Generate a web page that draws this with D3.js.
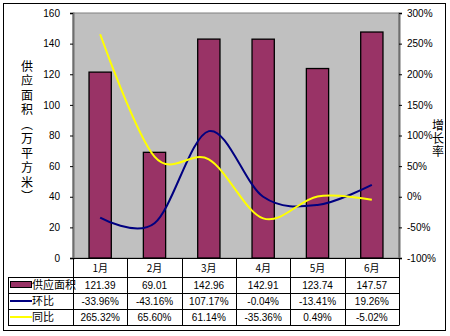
<!DOCTYPE html>
<html><head><meta charset="utf-8">
<script src="https://cdn.jsdelivr.net/npm/d3@7/dist/d3.min.js"></script>
<style>
body{margin:0;background:#fff;}
text{font-family:"Liberation Sans","Noto Sans CJK SC",sans-serif;font-size:10px;fill:#000;}
.cjk{font-family:"Noto Sans CJK SC",sans-serif;}
</style></head>
<body><svg id="c" width="450" height="336"></svg>
<script>
const categories = ["1月","2月","3月","4月","5月","6月"];
const supplyArea = [121.39, 69.01, 142.96, 142.91, 123.74, 147.57];
const momGrowth = [-33.96, -43.16, 107.17, -0.04, -13.41, 19.26];
const yoyGrowth = [265.32, 65.60, 61.14, -35.36, 0.49, -5.02];
const leftTicks = [0,20,40,60,80,100,120,140,160];
const rightTicks = [-100,-50,0,50,100,150,200,250,300];
const seriesNames = ["供应面积","环比","同比"];

const svg = d3.select("#c");
const L = 73, R = 399, T = 13, B = 258;
const x = d3.scaleBand().domain(categories).range([L,R]).padding(0);
const yL = d3.scaleLinear().domain([0,160]).range([B,T]);
const yR = d3.scaleLinear().domain([-100,300]).range([B,T]);

svg.append("rect").attr("x",3.5).attr("y",3.5).attr("width",442).attr("height",327).attr("fill","#fff").attr("stroke","#000");
svg.append("rect").attr("x",L).attr("y",T).attr("width",R-L).attr("height",B-T).attr("fill","#c0c0c0").attr("stroke","#808080");

const bw = x.bandwidth()*0.41;
svg.selectAll(".bar").data(supplyArea).join("rect")
  .attr("x",(d,i)=>x(categories[i])+x.bandwidth()/2-bw/2)
  .attr("y",d=>yL(d)).attr("width",bw).attr("height",d=>B-yL(d))
  .attr("fill","#993366").attr("stroke","#000").attr("stroke-width",1.3);

const cx = (i)=>x(categories[i])+x.bandwidth()/2;
const line = d3.line().x((d,i)=>cx(i)).y(d=>yR(d)).curve(d3.curveCatmullRom.alpha(0));
svg.append("path").attr("d",line(momGrowth)).attr("fill","none").attr("stroke","#000080").attr("stroke-width",2);
svg.append("path").attr("d",line(yoyGrowth)).attr("fill","none").attr("stroke","#ffff00").attr("stroke-width",2);

const ax = svg.append("g").attr("transform",`translate(${L},0)`).call(d3.axisLeft(yL).tickValues(leftTicks).tickSize(3).tickPadding(10));
ax.selectAll("text").style("font-size","10px").attr("font-family",null);
const ar = svg.append("g").attr("transform",`translate(${R},0)`).call(d3.axisRight(yR).tickValues(rightTicks).tickSize(3).tickPadding(5).tickFormat(d=>d+"%"));
ar.selectAll("text").style("font-size","10px").attr("font-family",null);
svg.selectAll(".domain").attr("stroke","#6e6e6e").attr("stroke-width",2);
svg.selectAll(".tick line").attr("stroke","#000");
svg.selectAll("g text").attr("fill","#000");

svg.append("text").attr("class","cjk").attr("x",27).attr("y",60)
  .style("writing-mode","vertical-rl").style("text-orientation","upright")
  .style("font-size","12px").style("letter-spacing","2.5px")
  .text("供应面积（万平方米）");
svg.append("text").attr("class","cjk").attr("x",438).attr("y",119)
  .style("writing-mode","vertical-rl").style("text-orientation","upright")
  .style("font-size","12px").style("letter-spacing","1px")
  .text("增长率");

const rowTop = [258,277,293,309,325];
const tbl = svg.append("g");
tbl.append("line").attr("x1",L).attr("x2",R).attr("y1",rowTop[0]+0.5).attr("y2",rowTop[0]+0.5).attr("stroke","#000");
for(let r=1;r<5;r++){
  tbl.append("line").attr("x1",8).attr("x2",R).attr("y1",rowTop[r]+0.5).attr("y2",rowTop[r]+0.5).attr("stroke","#000");
}
tbl.append("line").attr("x1",8.5).attr("x2",8.5).attr("y1",rowTop[1]).attr("y2",rowTop[4]+0.5).attr("stroke","#000");
categories.forEach((c,i)=>{
  const xx = Math.round(x(c))+0.5;
  tbl.append("line").attr("x1",xx).attr("x2",xx).attr("y1",rowTop[0]).attr("y2",rowTop[4]).attr("stroke","#000");
});
tbl.append("line").attr("x1",R+0.5).attr("x2",R+0.5).attr("y1",rowTop[0]).attr("y2",rowTop[4]+0.5).attr("stroke","#000");

categories.forEach((c,i)=>{
  tbl.append("text").attr("class","cjk").attr("x",cx(i)).attr("y",rowTop[0]+13.5).attr("text-anchor","middle").text(c);
});
const rows = [
  supplyArea.map(d=>d.toFixed(2)),
  momGrowth.map(d=>d.toFixed(2)+"%"),
  yoyGrowth.map(d=>d.toFixed(2)+"%")
];
rows.forEach((vals,r)=>{
  vals.forEach((v,i)=>{
    tbl.append("text").attr("x",cx(i)).attr("y",rowTop[r+1]+12).attr("text-anchor","middle").text(v);
  });
  const yc = (rowTop[r+1]+rowTop[r+2])/2;
  if(r===0){
    tbl.append("rect").attr("x",10.5).attr("y",yc-3.5).attr("width",21).attr("height",6).attr("fill","#993366").attr("stroke","#000");
  } else {
    tbl.append("line").attr("x1",10).attr("x2",32).attr("y1",yc).attr("y2",yc).attr("stroke",r===1?"#000080":"#ffff00").attr("stroke-width",2);
  }
  tbl.append("text").attr("class","cjk").attr("x",32).attr("y",rowTop[r+1]+12).text(seriesNames[r]).style("font-size","11px");
});
</script></body></html>
